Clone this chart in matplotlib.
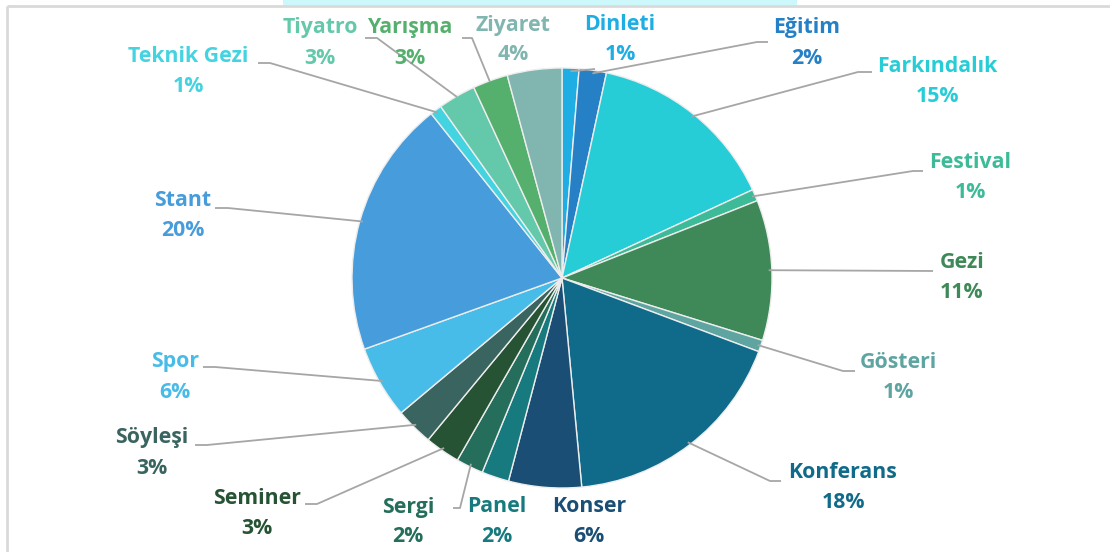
import matplotlib
matplotlib.use("Agg")
import matplotlib.pyplot as plt
import numpy as np

# ---- data ----
categories = ["Dinleti", "Eğitim", "Farkındalık", "Festival", "Gezi", "Gösteri",
              "Konferans", "Konser", "Panel", "Sergi", "Seminer", "Söyleşi",
              "Spor", "Stant", "Teknik Gezi", "Tiyatro", "Yarışma", "Ziyaret"]
shares = [1.3, 2.1, 14.7, 0.9, 10.8, 0.9, 17.8, 5.6, 2.1, 2.1, 2.7, 2.9,
          5.6, 19.8, 0.9, 2.9, 2.7, 4.2]
colors = ["#1EAEE3", "#2680C6", "#27CDD6", "#3DBA97", "#3E8957", "#5EA5A2",
          "#106A8A", "#1A4E75", "#177A7E", "#246E5B", "#265333", "#3A645F",
          "#48BCE8", "#479CDC", "#44D3E0", "#64C8AA", "#55B06E", "#80B5B0"]
exploded = ["Farkındalık", "Gezi", "Konferans", "Stant"]

W, H = 1110, 552
fig = plt.figure(figsize=(W / 100, H / 100), dpi=100)
ax = fig.add_axes([0, 0, 1, 1])

def P(x, y):
    return x, H - y

cx, cy = P(562, 278)
R = 210
explode = [0.012 if c in exploded else 0 for c in categories]
wedges, _ = ax.pie(shares, colors=colors, startangle=90, counterclock=False,
                   center=(cx, cy), radius=R, explode=explode,
                   wedgeprops=dict(edgecolor="#EDEDED", linewidth=1.0),
                   frame=True)
ax.set_xlim(0, W)
ax.set_ylim(0, H)
ax.set_aspect("equal")
ax.axis("off")

# frame & top band
ax.add_patch(plt.Rectangle((283, H - 5), 797 - 283, 5, color="#CCF8FB", zorder=0, lw=0))
ax.plot([7, W], [H - 5.5, H - 5.5], color="#D9D9D9", lw=2, zorder=1, solid_capstyle="butt")
ax.plot([7, 7], [0, H - 5.5], color="#D9D9D9", lw=2, zorder=1, solid_capstyle="butt")

total = sum(shares)
pct_labels = [f"{v / total * 100:.0f}%" for v in shares]

# label layout: (text x, name y, [leader points after wedge anchor]) in pixel coords (y down)
layout = {
    "Dinleti":     (620, 25,  [(595, 69)]),
    "Eğitim":      (807, 28,  [(757, 42), (768, 42)]),
    "Farkındalık": (937, 67,  [(858, 72), (872, 72)]),
    "Festival":    (970, 163, [(913, 171), (923, 171)]),
    "Gezi":        (962, 263, [(933, 271)]),
    "Gösteri":     (898, 363, [(843, 371), (855, 371)]),
    "Konferans":   (843, 473, [(770, 481), (781, 481)]),
    "Konser":      (589, 507, None),
    "Panel":       (497, 506, None),
    "Sergi":       (408, 507, [(460, 508), (453, 508)]),
    "Seminer":     (257, 498, [(317, 504), (305, 504)]),
    "Söyleşi":     (152, 438, [(207, 445), (195, 445)]),
    "Spor":        (175, 362, [(215, 367), (203, 367)]),
    "Stant":       (183, 201, [(228, 208), (215, 208)]),
    "Teknik Gezi": (188, 57,  [(270, 63), (258, 63)]),
    "Tiyatro":     (320, 28,  [(377, 38), (365, 38)]),
    "Yarışma":     (410, 28,  [(472, 38), (462, 38)]),
    "Ziyaret":     (513, 25,  None),
}

font = dict(family="Open Sans", weight="bold", fontsize=15.3)
cum = 0.0
for i, cat in enumerate(categories):
    frac_mid = (cum + shares[i] / 2) / total
    cum += shares[i]
    ang = np.deg2rad(90 - 360 * frac_mid)
    tx, ty, pts = layout[cat]
    col = colors[i]
    ax.text(*P(tx, ty), cat, color=col, ha="center", va="center", zorder=5, **font)
    ax.text(*P(tx, ty + 30), pct_labels[i], color=col, ha="center", va="center", zorder=5, **font)
    if pts:
        r0 = R * 0.985
        xs = [cx + r0 * np.cos(ang)] + [p[0] for p in pts]
        ys = [cy + r0 * np.sin(ang)] + [H - p[1] for p in pts]
        if cat == "Tiyatro":
            xs[0], ys[0] = P(457, 97)
        if cat == "Yarışma":
            xs[0], ys[0] = P(490, 82)
        ax.plot(xs, ys, color="#A6A6A6", lw=1.3, zorder=4, solid_capstyle="butt")

fig.savefig("out.png", dpi=100, facecolor="white")
